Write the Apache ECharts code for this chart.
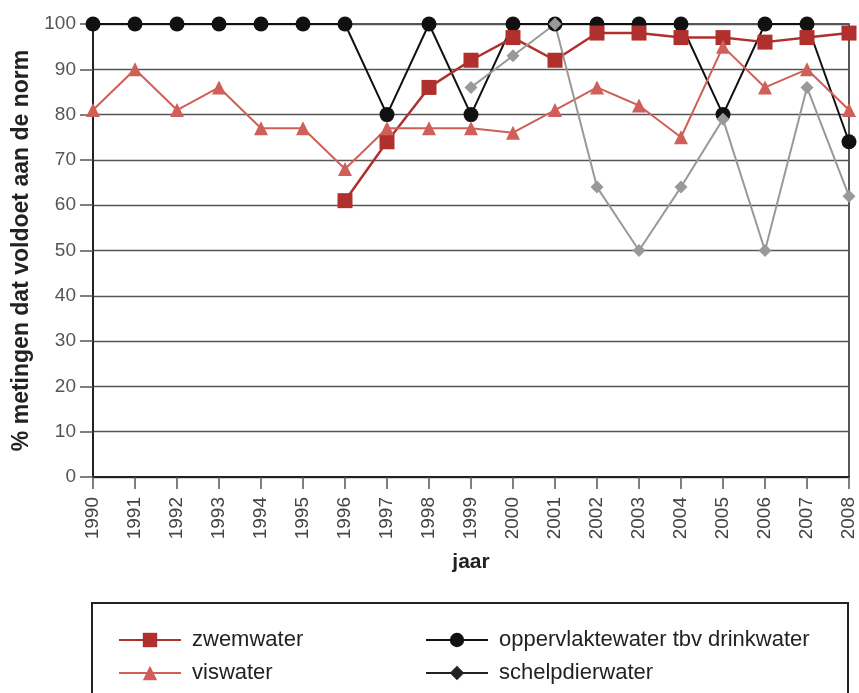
<!DOCTYPE html>
<html>
<head>
<meta charset="utf-8">
<script src="https://cdn.jsdelivr.net/npm/echarts@6/dist/echarts.min.js"></script>
<style>
  html, body { margin: 0; padding: 0; background: #fff; }
  #chart { width: 859px; height: 693px; }
</style>
</head>
<body>
<div id="chart"></div>
<script>
var jaren = ['1990','1991','1992','1993','1994','1995','1996','1997','1998','1999',
             '2000','2001','2002','2003','2004','2005','2006','2007','2008'];
var zwemwater = [null,null,null,null,null,null,61,74,86,92,97,92,98,98,97,97,96,97,98];
var viswater = [81,90,81,86,77,77,68,77,77,77,76,81,86,82,75,95,86,90,81];
var drinkwater = [100,100,100,100,100,100,100,80,100,80,100,100,100,100,100,80,100,100,74];
var schelpdierwater = [null,null,null,null,null,null,null,null,null,86,93,100,64,50,64,79,50,86,62];

var fontFam = '"Liberation Sans", Arial, sans-serif';

var initLine = function () {
    var myeCharts = echarts.init(document.getElementById('chart'));
    var legendText = { fontSize: 22, lineHeight: 22, color: '#222', fontFamily: fontFam, padding: [0, 0, 0, 6] };
    var option = {
        animation: false,
        textStyle: { fontFamily: fontFam },
        grid: {
            left: 93, right: 10, top: 24, bottom: 216,
            show: true, borderColor: '#222', borderWidth: 1.5, backgroundColor: 'transparent'
        },
        graphic: [{
            type: 'rect',
            shape: { x: 92, y: 603, width: 756, height: 130 },
            style: { fill: 'none', stroke: '#222', lineWidth: 2 }
        }],
        legend: [{
            left: 113, top: 624, orient: 'vertical', itemGap: 11,
            itemWidth: 62, itemHeight: 18,
            textStyle: legendText,
            data: ['zwemwater', 'viswater']
        }, {
            left: 420, top: 624, orient: 'vertical', itemGap: 11,
            itemWidth: 62, itemHeight: 18,
            textStyle: legendText,
            data: ['oppervlaktewater tbv drinkwater',
                   { name: 'schelpdierwater', itemStyle: { color: '#222' }, lineStyle: { color: '#222' } }]
        }],
        xAxis: {
            type: 'category',
            data: jaren,
            boundaryGap: false,
            name: 'jaar',
            nameLocation: 'middle',
            nameGap: 75,
            nameTextStyle: { fontSize: 21, fontWeight: 'bold', color: '#222' },
            axisLine: { lineStyle: { color: '#222', width: 2 } },
            axisTick: { alignWithLabel: true, length: 12, lineStyle: { color: '#555', width: 1.5 } },
            axisLabel: { rotate: 90, margin: 20, fontSize: 19, color: '#444' },
            splitLine: { show: false }
        },
        yAxis: {
            type: 'value',
            min: 0, max: 100, interval: 10,
            name: '% metingen dat voldoet aan de norm',
            nameLocation: 'middle',
            nameGap: 58,
            nameTextStyle: { fontSize: 23, fontWeight: 'bold', color: '#222' },
            axisLine: { show: true, lineStyle: { color: '#222', width: 2 } },
            axisTick: { show: true, length: 13, lineStyle: { color: '#555', width: 1.5 } },
            axisLabel: { margin: 17, fontSize: 19, color: '#555' },
            splitLine: { lineStyle: { color: '#555', width: 1.3 } }
        },
        series: [{
            name: 'oppervlaktewater tbv drinkwater',
            type: 'line',
            data: drinkwater,
            symbol: 'circle', symbolSize: 15,
            itemStyle: { color: '#111' },
            lineStyle: { color: '#111', width: 2 }
        }, {
            name: 'zwemwater',
            type: 'line',
            data: zwemwater,
            symbol: 'rect', symbolSize: 15,
            itemStyle: { color: '#b0302e' },
            lineStyle: { color: '#b0302e', width: 2.5 }
        }, {
            name: 'viswater',
            type: 'line',
            data: viswater,
            symbol: 'triangle', symbolSize: 14,
            itemStyle: { color: '#cf5f58' },
            lineStyle: { color: '#cf5f58', width: 2 }
        }, {
            name: 'schelpdierwater',
            type: 'line',
            data: schelpdierwater,
            symbol: 'diamond', symbolSize: 13,
            itemStyle: { color: '#999' },
            lineStyle: { color: '#999', width: 2 }
        }]
    };
    myeCharts.setOption(option);
};
initLine();
</script>
</body>
</html>
